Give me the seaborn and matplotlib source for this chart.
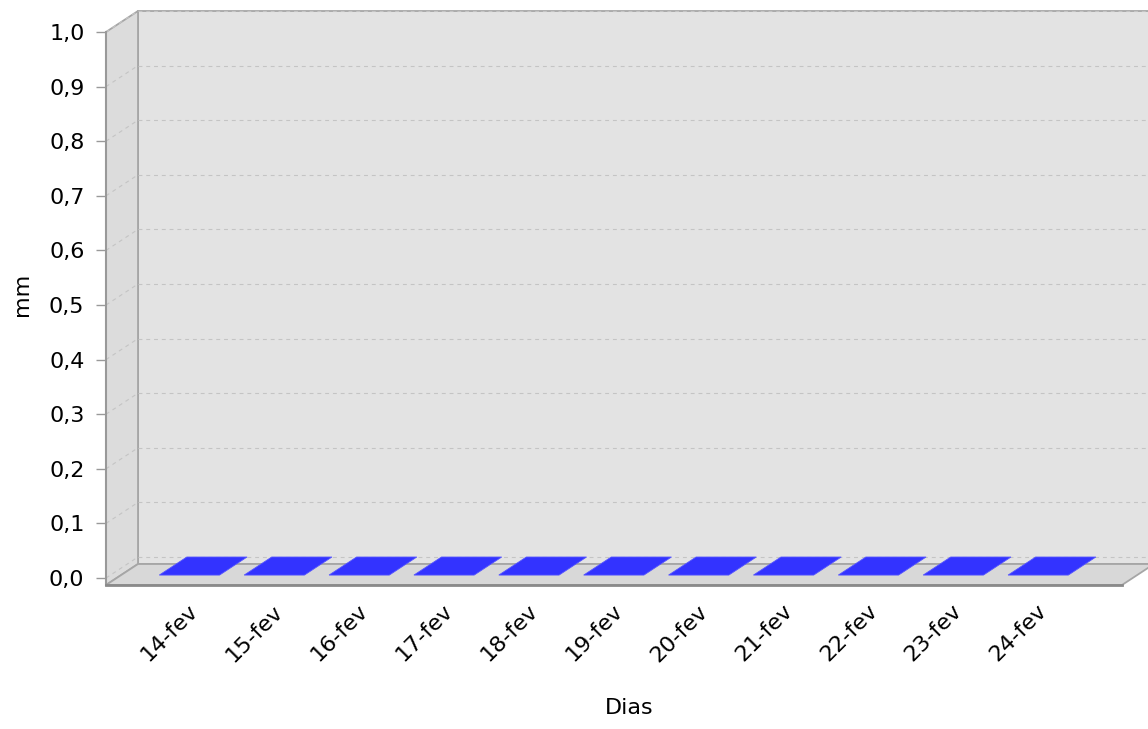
import matplotlib
matplotlib.use("Agg")
import matplotlib.pyplot as plt
import matplotlib.transforms as mtransforms
from matplotlib.patches import Polygon
from matplotlib.lines import Line2D
import seaborn as sns
import pandas as pd

# dados (chuva diaria, mm)
dias = ["14-fev", "15-fev", "16-fev", "17-fev", "18-fev", "19-fev",
        "20-fev", "21-fev", "22-fev", "23-fev", "24-fev"]
chuva_mm = [0.0, 0.0, 0.0, 0.0, 0.0, 0.0, 0.0, 0.0, 0.0, 0.0, 0.0]
y_ticks = [0.0, 0.1, 0.2, 0.3, 0.4, 0.5, 0.6, 0.7, 0.8, 0.9, 1.0]
y_tick_labels = ["0,0", "0,1", "0,2", "0,3", "0,4", "0,5",
                 "0,6", "0,7", "0,8", "0,9", "1,0"]

BAR = "#3333ff"
BACK_WALL = "#e3e3e3"
SIDE_WALL = "#dcdcdc"
FLOOR = "#d8d8d8"
GRID = "#c4c4c4"
DX, DY = 32, 21   # profundidade 3D em pixels

sns.set_style("white")
plt.rcParams["font.family"] = ["DejaVu Sans"]
plt.rcParams["text.color"] = "black"
plt.rcParams["axes.labelcolor"] = "black"
plt.rcParams["xtick.color"] = "black"
plt.rcParams["ytick.color"] = "black"

W, H = 1148, 729
fig = plt.figure(figsize=(W / 100, H / 100), dpi=100)
ax = fig.add_axes([106 / W, 1 - 585 / H, (1122 - 106) / W, (585 - 32) / H])
ax.set_facecolor("none")

df = pd.DataFrame({"dia": dias, "mm": chuva_mm})
sns.barplot(data=df, x="dia", y="mm", color=BAR, saturation=1, width=0.71, ax=ax)
ax.set_xlim(-0.93, 11.04)
ax.set_ylim(-0.0128, 1.0)

ident = mtransforms.IdentityTransform()
x0, y0 = ax.transData.transform((-0.93, -0.0128))
x1, y1 = ax.transData.transform((11.04, 1.0))

# paredes e chao
back = [(x0 + DX, y0 + DY), (x1 + DX, y0 + DY), (x1 + DX, y1 + DY), (x0 + DX, y1 + DY)]
left = [(x0, y0), (x0 + DX, y0 + DY), (x0 + DX, y1 + DY), (x0, y1)]
floor = [(x0, y0), (x1, y0), (x1 + DX, y0 + DY), (x0 + DX, y0 + DY)]
ax.add_patch(Polygon(back, closed=True, transform=ident, clip_on=False,
                     fc=BACK_WALL, ec="#a6a6a6", lw=1.3, zorder=0.1))
ax.add_patch(Polygon(left, closed=True, transform=ident, clip_on=False,
                     fc=SIDE_WALL, ec="#a6a6a6", lw=1.3, zorder=0.2))
ax.add_patch(Polygon(floor, closed=True, transform=ident, clip_on=False,
                     fc=FLOOR, ec="#a6a6a6", lw=1.3, zorder=0.3))

# grade tracejada na parede do fundo e lateral
for v in y_ticks:
    _, yv = ax.transData.transform((0, v))
    ax.add_line(Line2D([x0 + DX, x1 + DX], [yv + DY, yv + DY], transform=ident,
                       clip_on=False, color=GRID, lw=0.8, ls=(0, (3.5, 3.5)), zorder=0.4))
    ax.add_line(Line2D([x0, x0 + DX], [yv, yv + DY], transform=ident,
                       clip_on=False, color=GRID, lw=0.8, ls=(0, (3.5, 3.5)), zorder=0.4))

# barras 3D: face de cima (e lateral) a partir das barras do seaborn
f = 0.14
for p in list(ax.patches[:len(dias)]):
    bx, bw, bh = p.get_x(), p.get_width(), p.get_height()
    (ax_l, ay), (ax_r, _) = ax.transData.transform([(bx, bh), (bx + bw, bh)])
    _, ay0 = ax.transData.transform((bx, 0))
    top = [(ax_l + DX * f, ay + DY * f), (ax_r + DX * f, ay + DY * f),
           (ax_r + DX, ay + DY), (ax_l + DX, ay + DY)]
    side = [(ax_r + DX * f, ay0 + DY * f), (ax_r + DX, ay0 + DY),
            (ax_r + DX, ay + DY), (ax_r + DX * f, ay + DY * f)]
    ax.add_patch(Polygon(side, closed=True, transform=ident, clip_on=False,
                         fc="#2424b3", ec="none", zorder=4))
    ax.add_patch(Polygon(top, closed=True, transform=ident, clip_on=False,
                         fc=BAR, ec="#5555ff", lw=0.6, zorder=5))
    p.set_linewidth(0)

# eixos
for s in ["top", "right"]:
    ax.spines[s].set_visible(False)
ax.spines["left"].set_color("#999999")
ax.spines["left"].set_linewidth(1.5)
ax.spines["bottom"].set_color("#8a8a8a")
ax.spines["bottom"].set_linewidth(2)
ax.spines["left"].set_zorder(6)
ax.spines["bottom"].set_zorder(6)

ax.set_yticks(y_ticks)
ax.set_yticklabels(y_tick_labels)
ax.tick_params(axis="y", direction="out", length=7, width=1, color="#999999",
               labelcolor="black", pad=8.5, labelsize=16, left=True)
ax.tick_params(axis="x", length=0, pad=11.5, labelsize=16, labelcolor="black")
ax.set_xticks(range(len(dias)))
ax.set_xticklabels(dias, rotation=45, ha="right", va="top")
shift = mtransforms.ScaledTranslation(17 / 100, 0, fig.dpi_scale_trans)
for lbl in ax.get_xticklabels():
    lbl.set_transform(lbl.get_transform() + shift)

ax.set_xlabel("Dias", fontsize=16, color="black")
ax.set_ylabel("mm", fontsize=16, color="black")
ax.xaxis.set_label_coords(0.515, -0.204)
ax.yaxis.set_label_coords(-0.0728, 0.526)

fig.savefig("out.png", dpi=100)
